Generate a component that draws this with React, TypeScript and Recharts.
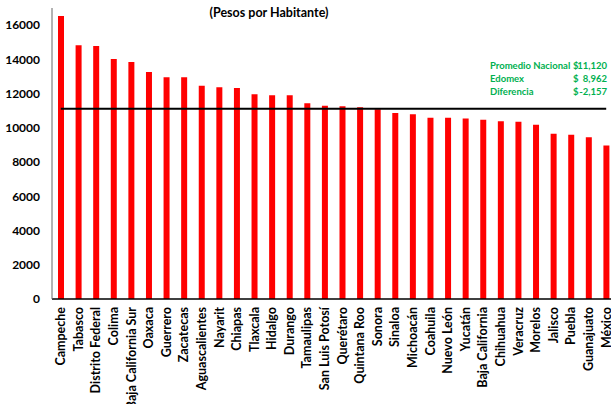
import React from "react";
import { BarChart, Bar, XAxis, YAxis, ReferenceLine } from "recharts";

const states = [
  "Campeche",
  "Tabasco",
  "Distrito Federal",
  "Colima",
  "Baja California Sur",
  "Oaxaca",
  "Guerrero",
  "Zacatecas",
  "Aguascalientes",
  "Nayarit",
  "Chiapas",
  "Tlaxcala",
  "Hidalgo",
  "Durango",
  "Tamaulipas",
  "San Luis Potosí",
  "Querétaro",
  "Quintana Roo",
  "Sonora",
  "Sinaloa",
  "Michoacán",
  "Coahuila",
  "Nuevo León",
  "Yucatán",
  "Baja California",
  "Chihuahua",
  "Veracruz",
  "Morelos",
  "Jalisco",
  "Puebla",
  "Guanajuato",
  "México",
];

const pesos = [
  16530, 14820, 14780, 14020, 13840, 13260, 12950, 12950, 12460, 12370,
  12320, 11960, 11900, 11900, 11430, 11290, 11255, 11200, 11080, 10860,
  10800, 10590, 10590, 10550, 10470, 10380, 10360, 10180, 9660, 9600,
  9450, 8962,
];

const yTicks = [0, 2000, 4000, 6000, 8000, 10000, 12000, 14000, 16000];

const promedio = 11120;

const noteLabels = ["Promedio Nacional", "Edomex", "Diferencia"];
const noteValues = ["11,120", "8,962", "-2,157"];

const data = states.map((name, i) => ({ name, value: pesos[i] }));

const FONT = "Lato, 'Open Sans', sans-serif";

function StateTick(props: any) {
  const { x, y, payload } = props;
  return (
    <text
      x={x}
      y={y}
      transform={`rotate(-90 ${x} ${y})`}
      textAnchor="end"
      dy="0.35em"
      fontFamily={FONT}
      fontWeight={700}
      fontSize={12.5}
      fill="#000"
    >
      {payload.value}
    </text>
  );
}

export default function App() {
  return (
    <div
      style={{
        position: "absolute",
        left: 0,
        top: 0,
        width: 611,
        height: 404,
        overflow: "hidden",
        background: "#fff",
      }}
    >
      <BarChart
        width={622}
        height={404}
        data={data}
        margin={{ top: 8, right: 7, bottom: 0, left: 0 }}
      >
        <XAxis
          dataKey="name"
          interval={0}
          height={105}
          tickLine={false}
          axisLine={{ stroke: "#000", strokeWidth: 1.5 }}
          tick={<StateTick />}
        />
        <YAxis
          width={52}
          domain={[0, 17000]}
          ticks={yTicks}
          tickLine={false}
          tickMargin={6}
          axisLine={{ stroke: "#666" }}
          tick={{
            fontFamily: FONT,
            fontWeight: 700,
            fontSize: 12,
            fill: "#000",
          }}
        />
        <Bar
          dataKey="value"
          fill="#FF0000"
          barSize={6}
          isAnimationActive={false}
        />
        <ReferenceLine
          segment={[
            { x: states[0], y: promedio },
            { x: states[states.length - 1], y: promedio },
          ]}
          stroke="#000"
          strokeWidth={2}
        />
      </BarChart>
      <svg
        width={611}
        height={404}
        style={{ position: "absolute", left: 0, top: 0, pointerEvents: "none" }}
      >
        <text
          x={269}
          y={17}
          textAnchor="middle"
          fontFamily={FONT}
          fontWeight={700}
          fontSize={12.5}
          fill="#000"
        >
          (Pesos por Habitante)
        </text>
        {noteLabels.map((label, i) => (
          <g key={label} fontFamily={FONT} fontWeight={700} fontSize={9.5} fill="#00B050">
            <text x={490} y={69 + i * 13}>
              {label}
            </text>
            <text x={573} y={69 + i * 13}>
              $
            </text>
            <text x={607} y={69 + i * 13} textAnchor="end">
              {noteValues[i]}
            </text>
          </g>
        ))}
      </svg>
    </div>
  );
}
